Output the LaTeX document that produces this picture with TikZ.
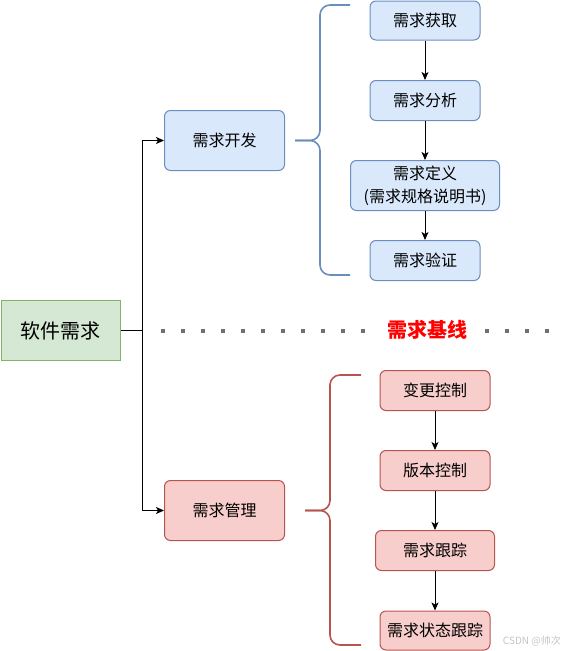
\documentclass[tikz,border=0pt]{standalone}
\usepackage{fontspec}
\setmainfont{Noto Sans CJK SC}
\usetikzlibrary{arrows.meta}
\definecolor{gfill}{HTML}{D5E8D4}
\definecolor{gdraw}{HTML}{82B366}
\definecolor{bfill}{HTML}{DAE8FC}
\definecolor{bdraw}{HTML}{6C8EBF}
\definecolor{rfill}{HTML}{F8CECC}
\definecolor{rdraw}{HTML}{B85450}
\definecolor{dotgray}{HTML}{707070}
\definecolor{wmgray}{HTML}{C4C4C4}
\tikzset{
  boxbase/.style={rounded corners=6pt, line width=1pt, align=center, inner sep=0pt, font=\fontsize{16}{23}\selectfont},
  bluebox/.style={boxbase, fill=bfill, draw=bdraw},
  redbox/.style={boxbase, fill=rfill, draw=rdraw},
  greenbox/.style={line width=1pt, fill=gfill, draw=gdraw, align=center, inner sep=0pt, font=\fontsize{20}{24}\selectfont},
  arr/.style={line width=1pt, -{Stealth[length=8pt,width=7pt,inset=2pt]}},
  plainline/.style={line width=1pt},
  bluebrace/.style={draw=bdraw, line width=1.6pt, rounded corners=10pt},
  redbrace/.style={draw=rdraw, line width=1.6pt, rounded corners=10pt},
  dotline/.style={draw=dotgray, line width=4pt, dash pattern=on 4pt off 16pt},
}
\begin{document}
\begin{tikzpicture}[x=1pt, y=-1pt]
\useasboundingbox (0,0) rectangle (564,651);
% root
\node[greenbox, minimum width=119pt, minimum height=60pt] (req) at (60.5,330.5) {软件需求};
% second level
\node[bluebox, minimum width=120pt, minimum height=60pt] (dev) at (224.5,140.5) {需求开发};
\node[redbox, minimum width=120pt, minimum height=60pt] (mgmt) at (224.5,510.5) {需求管理};
% development steps
\node[bluebox, minimum width=110pt, minimum height=39pt] (d1) at (425,20.5) {需求获取};
\node[bluebox, minimum width=110pt, minimum height=40pt] (d2) at (425,100.5) {需求分析};
\node[bluebox, minimum width=149pt, minimum height=50pt] (d3) at (425,185.5) {需求定义\\(需求规格说明书)};
\node[bluebox, minimum width=110pt, minimum height=40pt] (d4) at (425,260.5) {需求验证};
% management steps
\node[redbox, minimum width=110pt, minimum height=40pt] (m1) at (435,390.5) {变更控制};
\node[redbox, minimum width=110pt, minimum height=40pt] (m2) at (435,470.5) {版本控制};
\node[redbox, minimum width=119pt, minimum height=40pt] (m3) at (435,550.5) {需求跟踪};
\node[redbox, minimum width=110pt, minimum height=39pt] (m4) at (435,630.5) {需求状态跟踪};
% connectors from root
\coordinate (junc) at (142.5,330.5);
\draw[plainline] (req.east) -- (junc);
\draw[arr] (junc) |- (dev.west);
\draw[arr] (junc) |- (mgmt.west);
% step arrows
\draw[arr] (d1) -- (d2);
\draw[arr] (d2) -- (d3);
\draw[arr] (d3) -- (d4);
\draw[arr] (m1) -- (m2);
\draw[arr] (m2) -- (m3);
\draw[arr] (m3) -- (m4);
% braces
\draw[bluebrace] (350,5) -- (320,5) -- (320,140.5) -- (295,140.5);
\draw[bluebrace] (295,140.5) -- (320,140.5) -- (320,275) -- (350,275);
\draw[redbrace] (361,375) -- (330,375) -- (330,510.5) -- (305,510.5);
\draw[redbrace] (305,510.5) -- (330,510.5) -- (330,645) -- (361,645);
% baseline
\draw[dotline] (161,330.5) -- (365,330.5);
\draw[dotline] (485,330.5) -- (549,330.5);
\node[text=red, font=\fontsize{20}{24}\selectfont\bfseries, inner sep=0pt] (base) at (427.5,330) {需求基线};
% watermark
\node[text=wmgray, font=\fontsize{10}{12}\selectfont, inner sep=0pt, anchor=east] (wm) at (561,641.5) {CSDN @帅次};
\end{tikzpicture}
\end{document}
